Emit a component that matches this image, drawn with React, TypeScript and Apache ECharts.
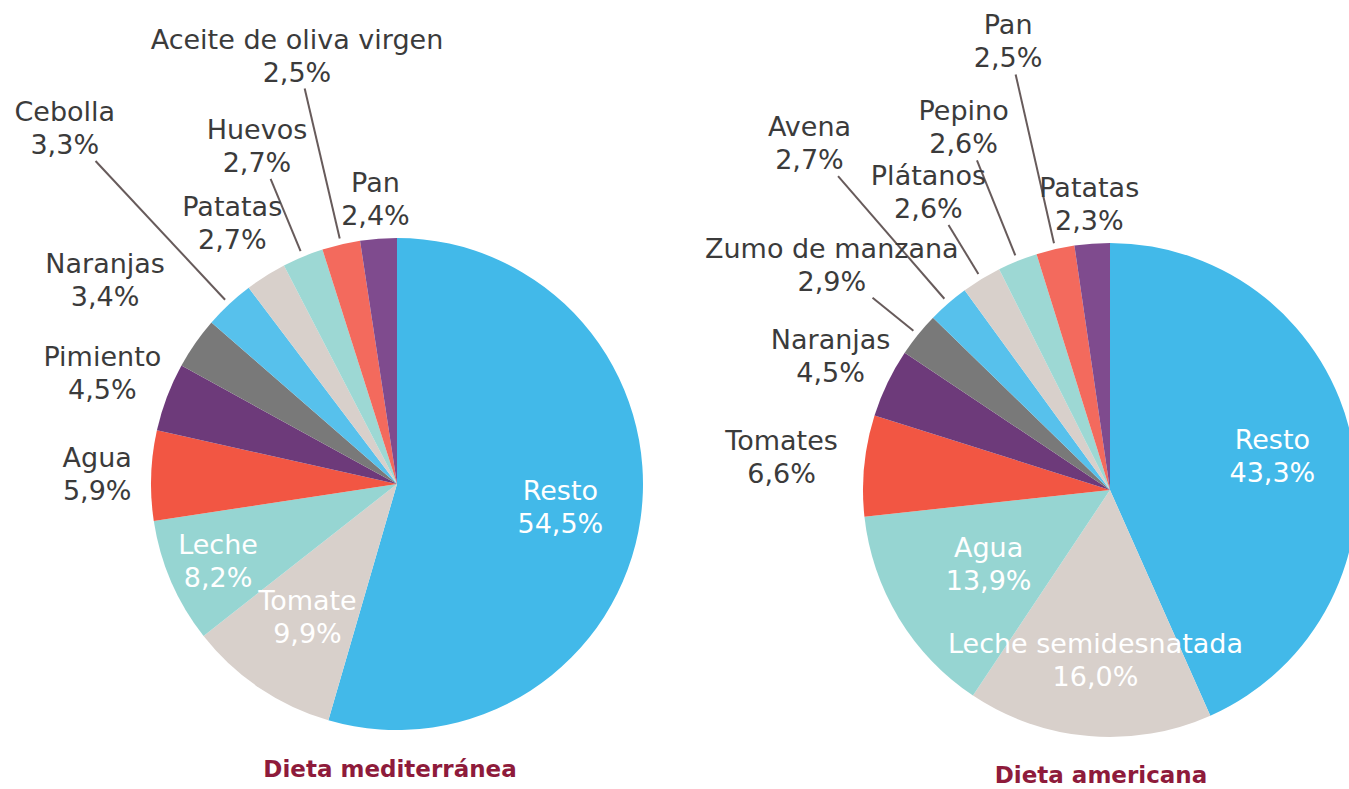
import React, { useEffect, useRef } from 'react';
import * as echarts from 'echarts';

// ---- Data ----
const medCategories = ['Resto', 'Tomate', 'Leche', 'Agua', 'Pimiento', 'Naranjas', 'Cebolla', 'Patatas', 'Huevos', 'Aceite de oliva virgen', 'Pan'];
const medValues = [54.5, 9.9, 8.2, 5.9, 4.5, 3.4, 3.3, 2.7, 2.7, 2.5, 2.4];

const amCategories = ['Resto', 'Leche semidesnatada', 'Agua', 'Tomates', 'Naranjas', 'Zumo de manzana', 'Avena', 'Plátanos', 'Pepino', 'Pan', 'Patatas'];
const amValues = [43.3, 16.0, 13.9, 6.6, 4.5, 2.9, 2.7, 2.6, 2.6, 2.5, 2.3];

const chartTitles = ['Dieta mediterránea', 'Dieta americana'];

// ---- Styles ----
const sliceColors = ['#42b9e9', '#d8d0cb', '#96d5d2', '#f25643', '#6d3a7a', '#797979', '#57c1ec', '#d8d0cb', '#9dd8d4', '#f36a5d', '#7f4b8e'];
const medLabelRadius = [165, 160, 195, 300, 315, 356, 487, 309, 366, 440, 286];
const amLabelRadius = [166, 171, 142, 330, 310, 358, 459, 349, 391, 460, 287];
const medInside = [true, true, true, false, false, false, false, false, false, false, false];
const amInside = [true, true, true, false, false, false, false, false, false, false, false];
const medLines = [false, false, false, false, false, false, true, false, true, true, false];
const amLines = [false, false, false, false, false, true, true, true, true, true, false];

const FONT = "'DejaVu Sans', sans-serif";
const TEXT_COLOR = '#3b3b3b';
const LINE_COLOR = '#675b5b';
const TITLE_COLOR = '#8e1b3b';

function fmt(v: number) {
  return v.toFixed(1).replace('.', ',') + '%';
}

function buildSeries(
  name: string,
  cats: string[],
  vals: number[],
  labelR: number[],
  inside: boolean[],
  lines: boolean[],
  center: [number, number],
  radius: number
) {
  const total = vals.reduce((a, b) => a + b, 0);
  const [cx, cy] = center;
  const midAngle = (i: number) => {
    let before = 0;
    for (let k = 0; k < i; k++) before += vals[k];
    return ((before + vals[i] / 2) / total) * Math.PI * 2;
  };
  return {
    type: 'pie',
    name,
    center: [cx, cy],
    radius,
    startAngle: 90,
    clockwise: true,
    avoidLabelOverlap: false,
    silent: true,
    label: {
      show: true,
      position: 'outside',
      formatter: (p: any) => `${p.name}\n${fmt(p.value)}`,
      color: TEXT_COLOR,
      fontFamily: FONT,
      fontSize: 27,
      lineHeight: 33,
    },
    labelLine: {
      show: false,
      lineStyle: { color: LINE_COLOR, width: 2 },
    },
    itemStyle: { borderWidth: 0 },
    labelLayout: (params: any) => {
      const i = params.dataIndex;
      const a = midAngle(i);
      const s = Math.sin(a);
      const c = Math.cos(a);
      const res: any = {
        x: cx + labelR[i] * s,
        y: cy - labelR[i] * c,
        align: 'center',
        verticalAlign: 'middle',
      };
      if (lines[i]) {
        const rIn = radius + 6;
        const rOut = labelR[i] - 33 / c;
        res.labelLinePoints = [
          [cx + rIn * s, cy - rIn * c],
          [cx + rOut * s, cy - rOut * c],
        ];
      }
      return res;
    },
    data: cats.map((n, i) => ({
      name: n,
      value: vals[i],
      itemStyle: { color: sliceColors[i] },
      label: inside[i] ? { color: '#ffffff' } : {},
      labelLine: { show: lines[i] },
    })),
  };
}

export default function App() {
  const ref = useRef<HTMLDivElement>(null);
  useEffect(() => {
    if (!ref.current) return;
    const chart = echarts.init(ref.current, undefined, { renderer: 'svg' });
    chart.setOption({
      animation: false,
      backgroundColor: '#ffffff',
      graphic: [
        {
          type: 'text',
          x: 390,
          y: 769,
          style: {
            text: chartTitles[0],
            fill: TITLE_COLOR,
            fontFamily: FONT,
            fontSize: 23,
            fontWeight: 'bold',
            align: 'center',
            verticalAlign: 'middle',
            textAlign: 'center',
            textVerticalAlign: 'middle',
          },
        },
        {
          type: 'text',
          x: 1101,
          y: 775,
          style: {
            text: chartTitles[1],
            fill: TITLE_COLOR,
            fontFamily: FONT,
            fontSize: 23,
            fontWeight: 'bold',
            align: 'center',
            verticalAlign: 'middle',
            textAlign: 'center',
            textVerticalAlign: 'middle',
          },
        },
      ],
      series: [
        buildSeries(chartTitles[0], medCategories, medValues, medLabelRadius, medInside, medLines, [397, 484], 246),
        buildSeries(chartTitles[1], amCategories, amValues, amLabelRadius, amInside, amLines, [1110, 490], 247),
      ],
    });
    return () => chart.dispose();
  }, []);
  return (
    <div
      ref={ref}
      style={{ position: 'fixed', left: 0, top: 0, width: 1349, height: 789 }}
    />
  );
}
